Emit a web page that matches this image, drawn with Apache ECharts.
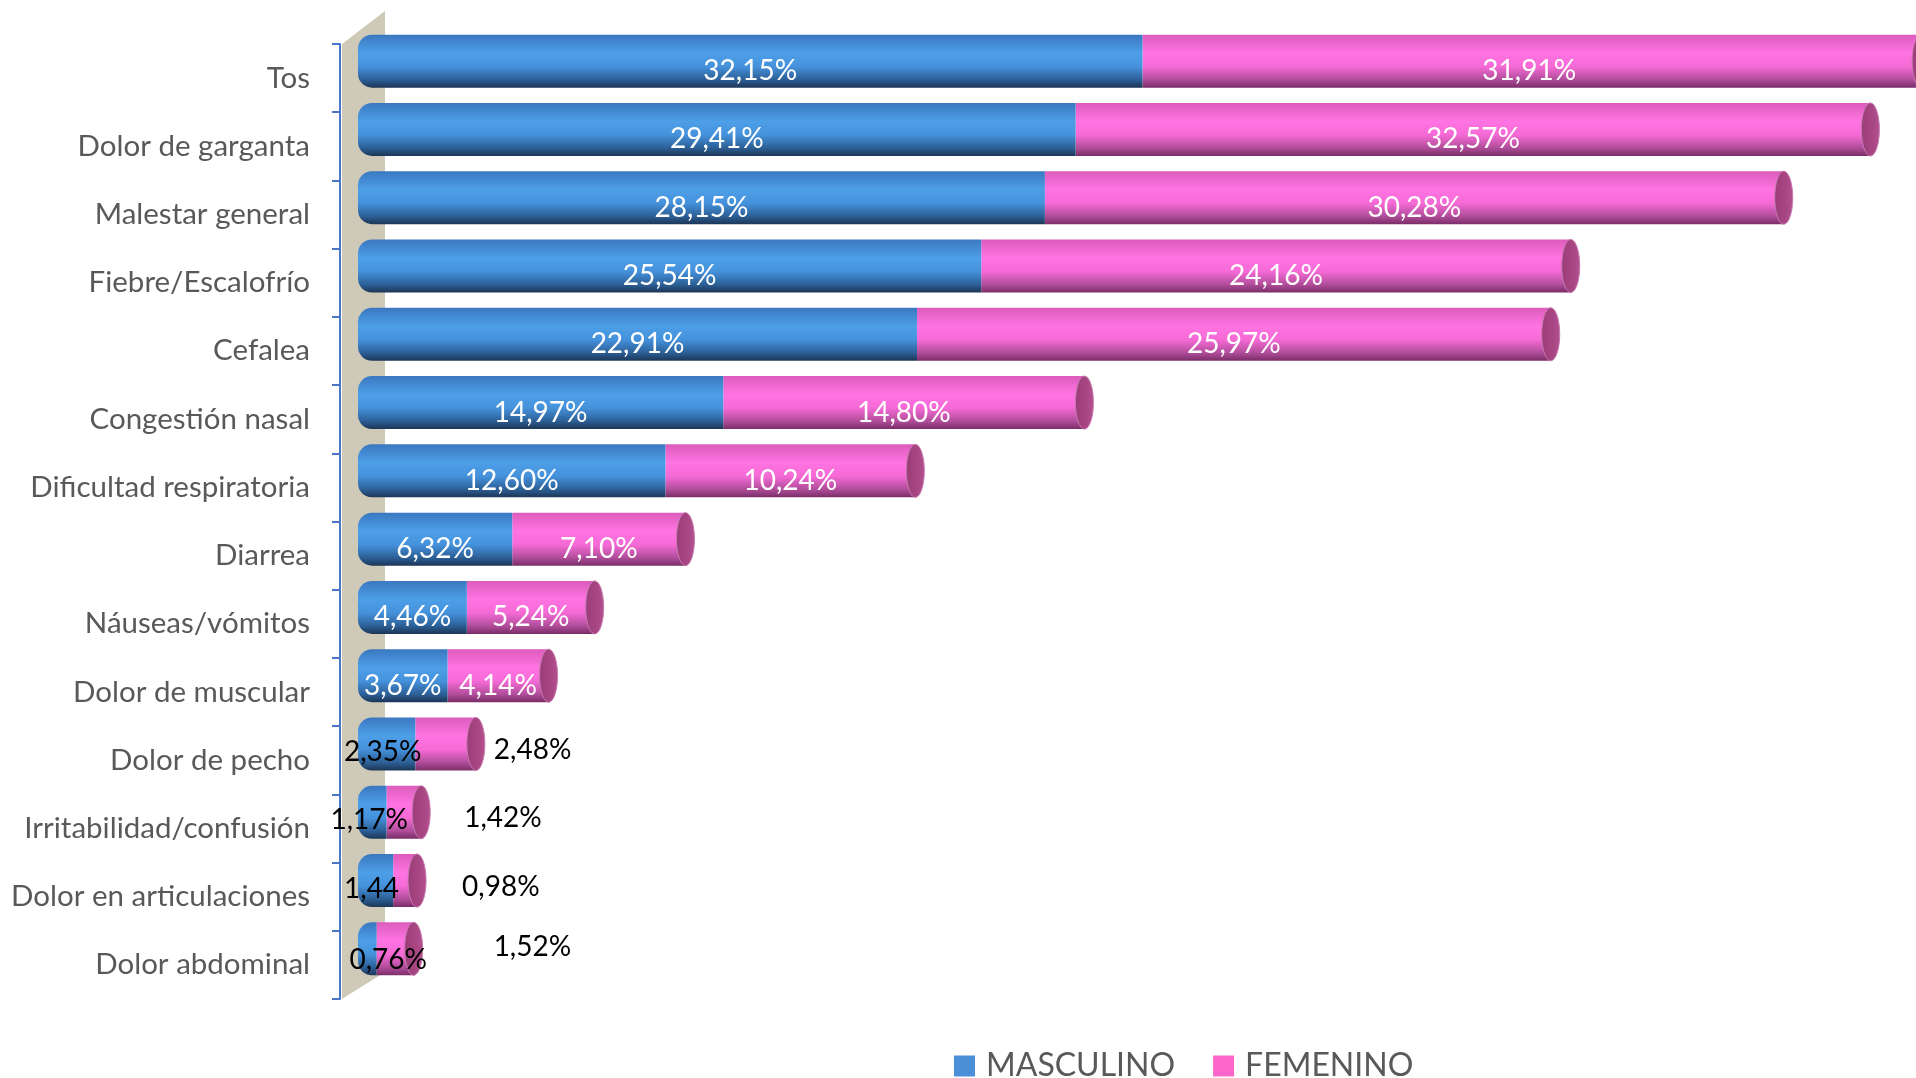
<!DOCTYPE html>
<html>
<head>
<meta charset="utf-8">
<script src="https://cdn.jsdelivr.net/npm/echarts@6/dist/echarts.min.js"></script>
<style>
  html, body { margin: 0; padding: 0; background: #fff; }
  #chart { width: 1916px; height: 1078px; }
</style>
</head>
<body>
<div id="chart"></div>
<script>
const sintomas = [
  'Tos', 'Dolor de garganta', 'Malestar general', 'Fiebre/Escalofrío', 'Cefalea',
  'Congestión nasal', 'Dificultad respiratoria', 'Diarrea', 'Náuseas/vómitos',
  'Dolor de muscular', 'Dolor de pecho', 'Irritabilidad/confusión',
  'Dolor en articulaciones', 'Dolor abdominal'
];
const masculino = [32.15, 29.41, 28.15, 25.54, 22.91, 14.97, 12.60, 6.32, 4.46, 3.67, 2.35, 1.17, 1.44, 0.76];
const femenino = [31.91, 32.57, 30.28, 24.16, 25.97, 14.80, 10.24, 7.10, 5.24, 4.14, 2.48, 1.42, 0.98, 1.52];
// la etiqueta de este dato no lleva "%" en el original
const sinPorcentaje = [12];

const totales = masculino.map((m, i) => +(m + femenino[i]).toFixed(2));
const fmt = v => v.toFixed(2).replace('.', ',');

const fuente = 'Lato, "Open Sans", sans-serif';

// ajustes manuales de etiquetas pequeñas (como en el original)
const ajusteMasc = { 10: [-4, 8], 11: [-3, 8], 12: [-4, 8], 13: [21, 11] };
const ajusteFem = { 10: [18, 6], 11: [43, 6], 12: [45, 6], 13: [80, -2] };

const azul = new echarts.graphic.LinearGradient(0, 0, 0, 1, [
  { offset: 0, color: '#3a78c0' },
  { offset: 0.35, color: '#4d9fe8' },
  { offset: 0.6, color: '#4592dc' },
  { offset: 0.85, color: '#2c5f96' },
  { offset: 1, color: '#1c3656' }
]);
const rosa = new echarts.graphic.LinearGradient(0, 0, 0, 1, [
  { offset: 0, color: '#dc5cbc' },
  { offset: 0.35, color: '#ff74e2' },
  { offset: 0.6, color: '#f66ad6' },
  { offset: 0.85, color: '#b04d9a' },
  { offset: 1, color: '#7a2d68' }
]);

const datosMasc = masculino.map((v, i) => {
  const d = { value: v };
  if (ajusteMasc[i]) {
    d.label = { color: '#000', offset: ajusteMasc[i], fontSize: 28 };
  }
  return d;
});
const datosFem = femenino.map((v, i) => {
  const d = { value: v };
  if (ajusteFem[i]) {
    d.label = { color: '#000', position: 'right', distance: 0, offset: ajusteFem[i], fontSize: 28 };
  }
  return d;
});

const chart = echarts.init(document.getElementById('chart'));
const option = {
  animation: false,
  textStyle: { fontFamily: fuente },
  grid: [
    { left: 340, right: 0, top: 44, bottom: 79 },
    { left: 358, right: 0, top: 27, bottom: 95 }
  ],
  graphic: [{
    type: 'polygon',
    z: 0,
    shape: { points: [[342, 44], [385, 11], [385, 972], [342, 999]] },
    style: { fill: '#cfc9b7' }
  }],
  legend: {
    left: 949,
    top: 1045,
    itemWidth: 21,
    itemHeight: 21,
    itemGap: 38,
    icon: 'rect',
    textStyle: { fontFamily: fuente, fontSize: 32, color: '#595959', padding: [0, 0, 0, 6] },
    data: [
      { name: 'MASCULINO', itemStyle: { color: '#4a8fd8' } },
      { name: 'FEMENINO', itemStyle: { color: '#ff66cc' } }
    ]
  },
  xAxis: [
    { gridIndex: 0, type: 'value', show: false, min: 0, max: 64 },
    { gridIndex: 1, type: 'value', show: false, min: 0, max: 63.85 }
  ],
  yAxis: [
    {
      gridIndex: 0,
      type: 'category',
      inverse: true,
      data: sintomas,
      axisLine: { show: true, lineStyle: { color: '#4a76c8', width: 2 } },
      axisTick: { show: true, length: 8, lineStyle: { color: '#4a76c8', width: 2 } },
      axisLabel: { fontFamily: fuente, fontSize: 29.5, color: '#595959', margin: 30, padding: [8, 0, 0, 0] }
    },
    {
      gridIndex: 1,
      type: 'category',
      inverse: true,
      data: sintomas,
      show: false
    }
  ],
  series: [
    {
      name: 'MASCULINO',
      type: 'bar',
      stack: 'total',
      xAxisIndex: 1,
      yAxisIndex: 1,
      barWidth: 53,
      z: 5,
      itemStyle: { color: azul, borderRadius: [14, 0, 0, 14] },
      label: {
        show: true,
        position: 'inside',
        offset: [0, 10],
        color: '#fff',
        fontFamily: fuente,
        fontSize: 28,
        formatter: p => fmt(p.value) + (sinPorcentaje.includes(p.dataIndex) ? '' : '%')
      },
      data: datosMasc
    },
    {
      name: 'FEMENINO',
      type: 'bar',
      stack: 'total',
      xAxisIndex: 1,
      yAxisIndex: 1,
      barWidth: 53,
      z: 3,
      itemStyle: { color: rosa },
      label: {
        show: true,
        position: 'inside',
        offset: [0, 10],
        color: '#fff',
        fontFamily: fuente,
        fontSize: 28,
        formatter: p => fmt(p.value) + '%'
      },
      data: datosFem
    },
    {
      name: 'tapa',
      type: 'custom',
      xAxisIndex: 1,
      yAxisIndex: 1,
      z: 4,
      silent: true,
      renderItem: (params, api) => {
        const c = api.coord([api.value(0), api.value(1)]);
        return {
          type: 'ellipse',
          shape: { cx: c[0], cy: c[1], rx: 9, ry: 26.5 },
          style: {
            fill: new echarts.graphic.LinearGradient(0, 0, 1, 0, [
              { offset: 0, color: '#9a3d78' },
              { offset: 0.6, color: '#a84683' },
              { offset: 1, color: '#b45090' }
            ]),
            stroke: '#c77bb0',
            lineWidth: 1
          }
        };
      },
      data: totales.map((t, i) => [t, i])
    }
  ]
};
chart.setOption(option);
</script>
</body>
</html>
